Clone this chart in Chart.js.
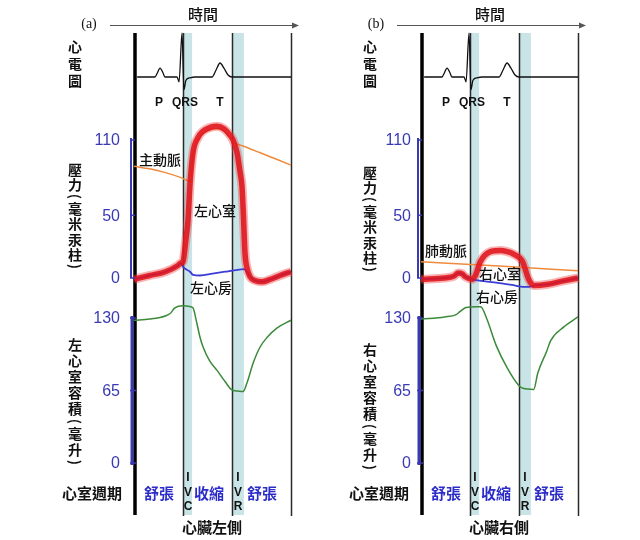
<!DOCTYPE html>
<html>
<head>
<meta charset="utf-8">
<script src="https://cdn.jsdelivr.net/npm/chart.js@4.4.1/dist/chart.umd.min.js"></script>
<style>
  html, body { margin: 0; padding: 0; background: #fff; }
  #wrap { position: relative; width: 640px; height: 540px; overflow: hidden; }
  canvas { position: absolute; top: 0; }
  #left { left: 0; }
  #right { left: 287px; }
</style>
</head>
<body>
<div id="wrap">
  <canvas id="left" width="330" height="540"></canvas>
  <canvas id="right" width="330" height="540"></canvas>
</div>
<script>
// time axis: % of one cardiac cycle
const phaseTimes = [31.2, 37, 62.4, 70];   // IVC start, IVC end, IVR start, IVR end
const pressureTicks = [0, 50, 110];        // mmHg
const volumeTicks = [0, 65, 130];          // mL

// ECG (mV), same rhythm for both sides
const ecgT  = [2, 13.4, 14.6, 16.6, 18.5, 19.7, 27.4, 28.7, 30.6, 31.8, 33.1, 35.7, 38.9, 49.7, 52.2, 54.8, 57.3, 59.9, 62.4, 100];
const ecgMv = [0, 0, 0.08, 0.22, 0.1, 0, 0, -0.12, 1.1, -0.32, -0.08, -0.02, 0, 0, 0.17, 0.35, 0.22, 0.05, 0, 0];

// left heart
const lvT = [0, 10, 20, 28, 30, 31.2, 33, 34.4, 35.7, 37.6, 40.8, 43.9, 48.4, 52.9, 57.3, 61.1, 63.1, 65.6, 67.5, 68.8, 69.7, 70.7, 72, 73.9, 77, 81.5, 87, 93, 100];
const lvP = [-1, 2, 5, 10, 12, 13, 30, 46, 75, 100, 112, 117, 120, 121, 119, 114, 110, 100, 85, 73, 50, 20, 8, 1, -2, -3, -1, 2, 5];
const laT = [0, 10, 20, 28, 30, 31.2, 35.7, 37.6, 42, 50, 58, 66, 70, 72.5, 74, 77, 81.5, 87, 93, 100];
const laP = [-1, 2, 5, 10, 12, 9, 5, 2.5, 2, 3.5, 5, 6.5, 7, 4, 1, -2, -3, -1, 2, 5];
const aoT = [0, 10, 20, 30, 36, 37.6, 40.8, 43.9, 48.4, 52.9, 57.3, 61.1, 63.5, 65, 67.5, 80, 90, 100];
const aoP = [89, 87, 84, 80, 77, 98, 110, 115, 118, 119, 117, 112, 108, 107, 106, 100, 95, 90];
const lvolT = [0, 10, 20.4, 23, 26, 31, 36.3, 37.6, 40, 42, 44, 48, 52.9, 58, 62.4, 66, 69.4, 72, 76, 80.3, 85, 91, 100];
const lvolV = [128, 129, 132, 134, 139, 141, 140, 139, 125.5, 113, 104, 92, 83, 73, 65.5, 64.5, 64, 72, 90, 104, 113, 121, 128];

// right heart
const rvT = [0, 15, 21, 23.7, 26, 28.2, 32.7, 35, 37.8, 44.2, 50.6, 55, 59, 64.7, 68.6, 71.8, 80.8, 90, 100];
const rvP = [-1, 0, 1.5, 4, 3.5, 1, -1, 3, 13, 21, 22, 21, 19, 13, -1, -6, -5, -2.5, 0];
const raT = [0, 15, 21, 23.7, 26, 28.2, 32.7, 40, 50, 60, 64.7, 68.6, 71.8, 80.8, 90, 100];
const raP = [-1, 0, 1.5, 4, 3.5, 1, -1, -2.5, -4, -6, -7, -7, -6, -5, -2.5, 0];
const paT = [0, 50, 100];
const paP = [13, 9.5, 5.8];
const rvolT = [0, 15, 22.4, 25, 28.8, 35, 38, 41.7, 48, 55, 62, 65, 71.8, 74.4, 80, 82.7, 91, 100];
const rvolV = [129, 131, 133, 136, 139.5, 140, 140, 130, 105, 85, 70, 67, 66, 80.7, 100, 110, 122, 131];

const AREA_TOP = 33, AREA_BOTTOM = 515;
const CJK = '"Noto Sans CJK TC", sans-serif';
const LATIN = '"Liberation Sans", Arial, sans-serif';
const BLUE = '#3a3ab4';

// value v0 sits at pixel p0 and v1 at p1
function span(v0, p0, v1, p1) {
  const k = (v1 - v0) / (p1 - p0);
  return { min: v0 + (AREA_BOTTOM - p0) * k, max: v0 + (AREA_TOP - p0) * k };
}

function pts(ts, vs) { return ts.map((t, i) => ({ x: t, y: vs[i] })); }

function line(data, axis, color, width) {
  return {
    data, yAxisID: axis, borderColor: color, borderWidth: width,
    pointRadius: 0, fill: false, cubicInterpolationMode: 'monotone', clip: false
  };
}

function vText(ctx, str, x, y, pitch, brk) {
  for (const ch of str) {
    const isBr = ch === '(' || ch === ')';
    const h = isBr ? brk : pitch;
    const cy = y + h / 2;
    if (isBr) {
      ctx.save();
      ctx.translate(x, cy);
      ctx.rotate(Math.PI / 2);
      ctx.fillText(ch, 0, 0);
      ctx.restore();
    } else {
      ctx.fillText(ch, x, cy);
    }
    y += h;
  }
}

function makePanel(p) {
  const overlay = {
    id: 'wiggers',
    beforeDatasetsDraw(chart) {
      const ctx = chart.ctx, x = chart.scales.x;
      ctx.save();
      ctx.fillStyle = '#c8e4e7';
      ctx.fillRect(x.getPixelForValue(phaseTimes[0]), AREA_TOP, x.getPixelForValue(phaseTimes[1]) - x.getPixelForValue(phaseTimes[0]), AREA_BOTTOM - AREA_TOP);
      ctx.fillRect(x.getPixelForValue(phaseTimes[2]), AREA_TOP, x.getPixelForValue(phaseTimes[3]) - x.getPixelForValue(phaseTimes[2]), AREA_BOTTOM - AREA_TOP);
      ctx.strokeStyle = '#2a2a2a';
      ctx.lineWidth = 1.5;
      [phaseTimes[0], phaseTimes[2], 100].forEach(t => {
        const px = Math.round(x.getPixelForValue(t)) + 0.5;
        ctx.beginPath(); ctx.moveTo(px, AREA_TOP); ctx.lineTo(px, AREA_BOTTOM + 1); ctx.stroke();
      });
      ctx.strokeStyle = '#000';
      ctx.lineWidth = 3.5;
      const x0 = x.getPixelForValue(0) + 1;
      ctx.beginPath(); ctx.moveTo(x0, AREA_TOP); ctx.lineTo(x0, AREA_BOTTOM); ctx.stroke();
      ctx.restore();
    },
    afterDraw(chart) {
      const ctx = chart.ctx, yP = chart.scales.yP, yV = chart.scales.yV;
      ctx.save();

      // time arrow
      ctx.strokeStyle = '#555'; ctx.fillStyle = '#555'; ctx.lineWidth = 1;
      ctx.beginPath(); ctx.moveTo(110, 25.5); ctx.lineTo(294, 25.5); ctx.stroke();
      ctx.beginPath(); ctx.moveTo(299, 25.5); ctx.lineTo(292, 22.5); ctx.lineTo(292, 28.5); ctx.closePath(); ctx.fill();

      ctx.fillStyle = '#111';
      ctx.textAlign = 'center'; ctx.textBaseline = 'middle';
      ctx.font = '500 15px ' + CJK;
      ctx.fillText('時間', 203, 14);
      ctx.font = '14px "Liberation Serif", serif';
      ctx.fillText(p.tag, 89, 24);

      // ECG wave labels
      ctx.font = 'bold 12px ' + LATIN;
      ctx.fillText('P', 159, 103);
      ctx.fillText('QRS', 185, 103);
      ctx.fillText('T', 220, 103);

      // pressure & volume axes
      ctx.strokeStyle = BLUE; ctx.fillStyle = BLUE;
      ctx.lineWidth = 2;
      ctx.beginPath(); ctx.moveTo(131, yP.getPixelForValue(110) - 2); ctx.lineTo(131, yP.getPixelForValue(0)); ctx.stroke();
      ctx.lineWidth = 3;
      ctx.beginPath(); ctx.moveTo(132, yV.getPixelForValue(130) - 2); ctx.lineTo(132, yV.getPixelForValue(0) + 2); ctx.stroke();
      ctx.lineWidth = 1.5;
      ctx.font = '16px ' + LATIN;
      ctx.textAlign = 'right';
      pressureTicks.forEach(v => {
        const py = yP.getPixelForValue(v);
        ctx.beginPath(); ctx.moveTo(130, py); ctx.lineTo(135, py); ctx.stroke();
        ctx.fillText(String(v), p.tickX, py + 1);
      });
      volumeTicks.forEach(v => {
        const py = yV.getPixelForValue(v);
        ctx.beginPath(); ctx.moveTo(130, py); ctx.lineTo(136, py); ctx.stroke();
        ctx.fillText(String(v), p.tickX, py + 1);
      });

      // vertical axis titles
      ctx.fillStyle = '#111';
      ctx.textAlign = 'center';
      ctx.font = 'bold 14px ' + CJK;
      vText(ctx, '心電圖', p.labelX, 38.5, 17, 9);
      vText(ctx, '壓力(毫米汞柱)', p.labelX, 161.5 + p.dyP, 15.5, 8);
      vText(ctx, p.volumeLabel, p.labelX, 337 + p.dyV, 16, 9);

      // curve names
      ctx.font = '500 14px ' + CJK;
      p.names.forEach(n => ctx.fillText(n.text, n.x, n.y));

      // cycle phases
      ctx.font = 'bold 15px ' + CJK;
      ctx.fillText('心室週期', 92, 493);
      ctx.fillText(p.sideLabel, 212, 527);
      ctx.fillStyle = '#2c2cc8';
      ctx.fillText('舒張', 159, 493);
      ctx.fillText('收縮', 209, 493);
      ctx.fillText('舒張', 262, 493);
      ctx.fillStyle = '#111';
      ctx.font = 'bold 12px ' + LATIN;
      ['I', 'V', 'C'].forEach((c, i) => ctx.fillText(c, 188, 478 + i * 14.5));
      ['I', 'V', 'R'].forEach((c, i) => ctx.fillText(c, 238, 478 + i * 14.5));
      ctx.restore();
    }
  };

  new Chart(document.getElementById(p.id), {
    type: 'line',
    data: {
      datasets: [
        line(pts(p.ventT, p.ventP), 'yP', 'rgba(224,20,28,0.88)', 5.5),
        line(pts(p.atrT, p.atrP), 'yP', '#3c3cd6', 1.8),
        line(pts(p.ventT, p.ventP), 'yP', 'rgba(238,70,70,0.4)', 9),
        line(pts(p.artT, p.artP), 'yP', '#ef8a3c', 1.5),
        line(pts(p.volT, p.volV), 'yV', '#3a8a3a', 1.5),
        line(pts(ecgT, ecgMv), 'yE', '#111', 1.3)
      ]
    },
    options: {
      responsive: false,
      animation: false,
      layout: { padding: { left: 134, right: 39, top: AREA_TOP, bottom: 540 - AREA_BOTTOM } },
      plugins: { legend: { display: false }, tooltip: { enabled: false } },
      scales: {
        x: { type: 'linear', min: 0, max: 100, display: false },
        yE: Object.assign({ type: 'linear', display: false, bounds: 'data' }, span(0, 77, 1, 37)),
        yP: Object.assign({ type: 'linear', display: false, bounds: 'data' }, span(0, 278, 110, 140)),
        yV: Object.assign({ type: 'linear', display: false, bounds: 'data' }, span(0, 463, 130, 318))
      }
    },
    plugins: [overlay]
  });
}

makePanel({
  id: 'left', tag: '(a)', labelX: 75, tickX: 120, dyP: 0, dyV: 0,
  volumeLabel: '左心室容積(毫升)', sideLabel: '心臟左側',
  ventT: lvT, ventP: lvP, atrT: laT, atrP: laP, artT: aoT, artP: aoP, volT: lvolT, volV: lvolV,
  names: [{ text: '主動脈', x: 160, y: 160 }, { text: '左心室', x: 215, y: 211 }, { text: '左心房', x: 211, y: 288 }]
});

makePanel({
  id: 'right', tag: '(b)', labelX: 83, tickX: 124, dyP: 3, dyV: 5,
  volumeLabel: '右心室容積(毫升)', sideLabel: '心臟右側',
  ventT: rvT, ventP: rvP, atrT: raT, atrP: raP, artT: paT, artP: paP, volT: rvolT, volV: rvolV,
  names: [{ text: '肺動脈', x: 159, y: 251 }, { text: '右心室', x: 213, y: 274 }, { text: '右心房', x: 210, y: 297 }]
});
</script>
</body>
</html>
